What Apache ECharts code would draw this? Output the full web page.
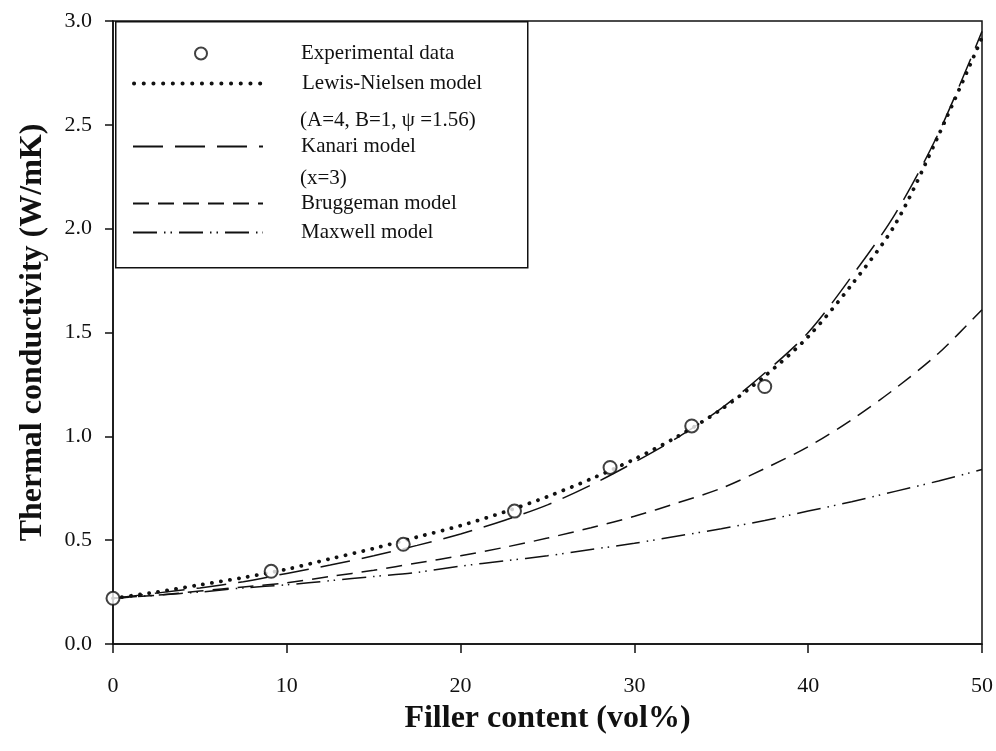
<!DOCTYPE html>
<html>
<head>
<meta charset="utf-8">
<style>
  html, body { margin: 0; padding: 0; background: #fff; }
  #chart { width: 996px; height: 751px; }
</style>
<script src="https://cdn.jsdelivr.net/npm/echarts@6/dist/echarts.min.js"></script>
</head>
<body>
<div id="chart"></div>
<script>
// measured points
const expX = [0, 9.1, 16.7, 23.1, 28.6, 33.3, 37.5];
const expY = [0.22, 0.35, 0.48, 0.64, 0.85, 1.05, 1.24];

// model curves at these filler contents
const modelX = [0, 2.5, 5, 7.5, 10, 12.5, 15, 17.5, 20, 22.5, 25, 27.5, 30, 32.5, 35, 37.5, 40, 42.5, 45, 47.5, 50];
const lewisNielsen = [0.22, 0.25, 0.285, 0.32, 0.36, 0.41, 0.46, 0.515, 0.57, 0.635, 0.71, 0.795, 0.89, 1.0, 1.13, 1.29, 1.48, 1.73, 2.02, 2.45, 2.92];
const kanari = [0.22, 0.245, 0.27, 0.30, 0.34, 0.38, 0.425, 0.475, 0.53, 0.595, 0.67, 0.765, 0.875, 0.995, 1.135, 1.305, 1.50, 1.77, 2.07, 2.46, 2.95];
const bruggeman = [0.22, 0.235, 0.255, 0.275, 0.295, 0.325, 0.355, 0.39, 0.425, 0.465, 0.51, 0.56, 0.615, 0.68, 0.75, 0.845, 0.95, 1.08, 1.23, 1.40, 1.61];
const maxwell = [0.22, 0.235, 0.25, 0.27, 0.285, 0.305, 0.325, 0.345, 0.375, 0.4, 0.425, 0.455, 0.485, 0.52, 0.555, 0.595, 0.64, 0.685, 0.735, 0.785, 0.84];

const xTicks = [0, 10, 20, 30, 40, 50];
const yTicks = [0, 0.5, 1.0, 1.5, 2.0, 2.5, 3.0];

const names = ['Experimental data', 'Lewis-Nielsen model', 'Kanari model', 'Bruggeman model', 'Maxwell model'];
const subNames = ['(A=4, B=1, \u03c8 =1.56)', '(x=3)'];

const ink = '#111';
const serif = '"Liberation Serif", "DejaVu Serif", serif';

const dotDash = [0.1, 9];

function pairs(xs, ys){
  return xs.map((x, i) => [x, ys[i]]);
}

function curve(name, values, dash, width, cap){
  return {
    name: name,
    type: 'line',
    data: pairs(modelX, values),
    smooth: 0.3,
    symbol: 'none',
    lineStyle: { color: ink, width: width, type: dash, cap: cap || 'butt' },
    // hides the dot the legend puts on line icons
    itemStyle: { color: ink, opacity: 0 },
    z: 3
  };
}

// text rows of the legend box
const legendRows = [53, 83, 146, 203, 232];
const textLeft = 300;

const legends = names.map((n, i) => {
  const isScatter = i === 0;
  const w = isScatter ? 12 : 130;
  const left = isScatter ? 194 : 132;
  const lg = {
    data: [n],
    left: left,
    top: legendRows[i] - 10,
    itemWidth: w,
    itemHeight: isScatter ? 12 : 16,
    itemGap: 0,
    padding: 0,
    selectedMode: false,
    textStyle: {
      fontFamily: serif, fontSize: 21, color: ink,
      padding: [0, 0, 0, textLeft - left - w - 5]
    }
  };
  if(!isScatter) lg.itemStyle = { opacity: 0 };
  if(i === 1) lg.lineStyle = { color: ink, width: 4, type: [0.1, 9.6], cap: 'round' };
  return lg;
});

const chart = echarts.init(document.getElementById('chart'), null, { renderer: 'canvas' });
chart.setOption({
  animation: false,
  backgroundColor: '#fff',
  grid: {
    left: 113, right: 14, top: 21, bottom: 107,
    show: true, borderColor: ink, borderWidth: 1.5
  },
  xAxis: {
    type: 'value',
    min: 0, max: 50, interval: 10,
    name: 'Filler content (vol%)',
    nameLocation: 'middle',
    nameGap: 59,
    nameTextStyle: { fontFamily: serif, fontWeight: 'bold', fontSize: 32, color: ink },
    axisLine: { show: true, onZero: false, lineStyle: { color: ink, width: 1.5 } },
    axisTick: { show: true, inside: false, length: 9, lineStyle: { color: ink, width: 1.5 } },
    axisLabel: {
      fontFamily: serif, fontSize: 22, color: ink, margin: 31,
      formatter: v => xTicks.includes(v) ? String(v) : ''
    },
    splitLine: { show: false }
  },
  yAxis: {
    type: 'value',
    min: 0, max: 3, interval: 0.5,
    name: 'Thermal conductivity (W/mK)',
    nameLocation: 'middle',
    nameGap: 64,
    nameTextStyle: { fontFamily: serif, fontWeight: 'bold', fontSize: 32, color: ink },
    axisLine: { show: true, onZero: false, lineStyle: { color: ink, width: 1.5 } },
    axisTick: { show: true, inside: false, length: 8, lineStyle: { color: ink, width: 1.5 } },
    axisLabel: {
      fontFamily: serif, fontSize: 22, color: ink, margin: 21,
      formatter: v => yTicks.some(t => Math.abs(t - v) < 1e-9) ? v.toFixed(1) : ''
    },
    splitLine: { show: false }
  },
  legend: legends,
  graphic: [
    {
      type: 'rect', left: 115, top: 21, z: 0,
      shape: { width: 412, height: 246 },
      style: { fill: '#fff', stroke: ink, lineWidth: 1.5 }
    },
    {
      type: 'text', left: textLeft, top: 121 - 11, z: 10,
      style: { text: subNames[0], font: '21px ' + serif, fill: ink }
    },
    {
      type: 'text', left: textLeft, top: 179 - 11, z: 10,
      style: { text: subNames[1], font: '21px ' + serif, fill: ink }
    }
  ],
  series: [
    {
      name: names[0],
      type: 'scatter',
      data: pairs(expX, expY),
      symbol: 'emptyCircle',
      symbolSize: 13,
      symbolKeepAspect: true,
      itemStyle: { color: ink, borderColor: ink, borderWidth: 1.6 },
      z: 5
    },
    curve(names[1], lewisNielsen, dotDash, 3.8, 'round'),
    curve(names[2], kanari, [30, 12], 1.5),
    curve(names[3], bruggeman, [16, 9], 1.5),
    curve(names[4], maxwell, [24, 7, 1.5, 5, 1.5, 7], 1.5)
  ]
});
</script>
</body>
</html>
